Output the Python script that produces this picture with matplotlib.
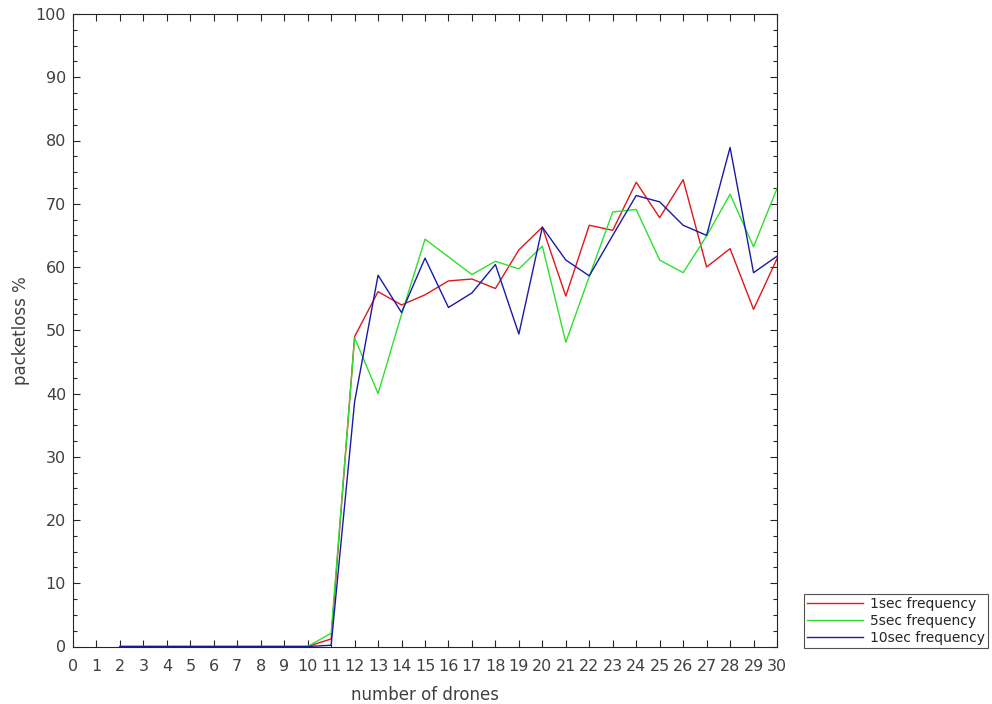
import numpy as np
import matplotlib
matplotlib.use('Agg')
import matplotlib.pyplot as plt
from matplotlib.ticker import MultipleLocator

# number of drones
drones = list(range(2, 31))

# packetloss % for each update frequency
loss_1sec = [0, 0, 0, 0, 0, 0, 0, 0, 0, 1.2,
             49.0, 56.1, 54.0, 55.6, 57.8, 58.1, 56.6, 62.7, 66.3,
             55.4, 66.6, 65.8, 73.4, 67.8, 73.8, 60.0, 62.9, 53.3, 61.3]
loss_5sec = [0, 0, 0, 0, 0, 0, 0, 0, 0, 2.1,
             48.8, 40.0, 52.5, 64.4, 61.6, 58.8, 60.9, 59.7, 63.3,
             48.1, 58.5, 68.7, 69.1, 61.1, 59.1, 64.9, 71.5, 63.2, 72.4]
loss_10sec = [0, 0, 0, 0, 0, 0, 0, 0, 0, 0.2,
              38.7, 58.7, 52.8, 61.4, 53.6, 55.9, 60.4, 49.4, 66.3,
              61.1, 58.6, 65.0, 71.3, 70.3, 66.6, 65.0, 78.9, 59.1, 61.7]

labels = ['1sec frequency', '5sec frequency', '10sec frequency']
colors = ['#e01818', '#2ee02e', '#1a1aa8']

plt.rcParams['font.family'] = ['DejaVu Sans']
fig = plt.figure(figsize=(9.92, 7.04), dpi=100)
ax = fig.add_axes([73 / 992, 57.5 / 704, 704 / 992, 632.5 / 704])

for series, lab, col in zip([loss_1sec, loss_5sec, loss_10sec], labels, colors):
    ax.plot(drones, series, color=col, linewidth=1.0, label=lab)

ax.set_xlim(0, 30)
ax.set_ylim(0, 100)
ax.xaxis.set_major_locator(MultipleLocator(1))
ax.yaxis.set_major_locator(MultipleLocator(10))
ax.yaxis.set_minor_locator(MultipleLocator(2.5))
ax.tick_params(which='both', direction='in', top=True, right=True,
               colors='#262626', labelcolor='#404040', labelsize=11.5)
ax.tick_params(which='major', length=5, width=0.8)
ax.tick_params(which='minor', length=3, width=0.8)
ax.tick_params(axis='x', pad=9)
ax.tick_params(axis='y', pad=5)
for sp in ax.spines.values():
    sp.set_color('#262626')
    sp.set_linewidth(0.8)

ax.set_xlabel('number of drones', fontsize=12, color='#404040', labelpad=9)
ax.set_ylabel('packetloss %', fontsize=12, color='#404040', labelpad=4)

leg = fig.legend(loc='lower left', bbox_to_anchor=(804 / 992, 56 / 704),
                 fontsize=10, frameon=True, fancybox=False, handlelength=4.0,
                 borderaxespad=0, labelspacing=0.2, handletextpad=0.5,
                 borderpad=0.25)
leg.get_frame().set_edgecolor('#262626')
leg.get_frame().set_linewidth(0.8)
for t in leg.get_texts():
    t.set_color('#262626')

fig.savefig('out.png', dpi=100)
